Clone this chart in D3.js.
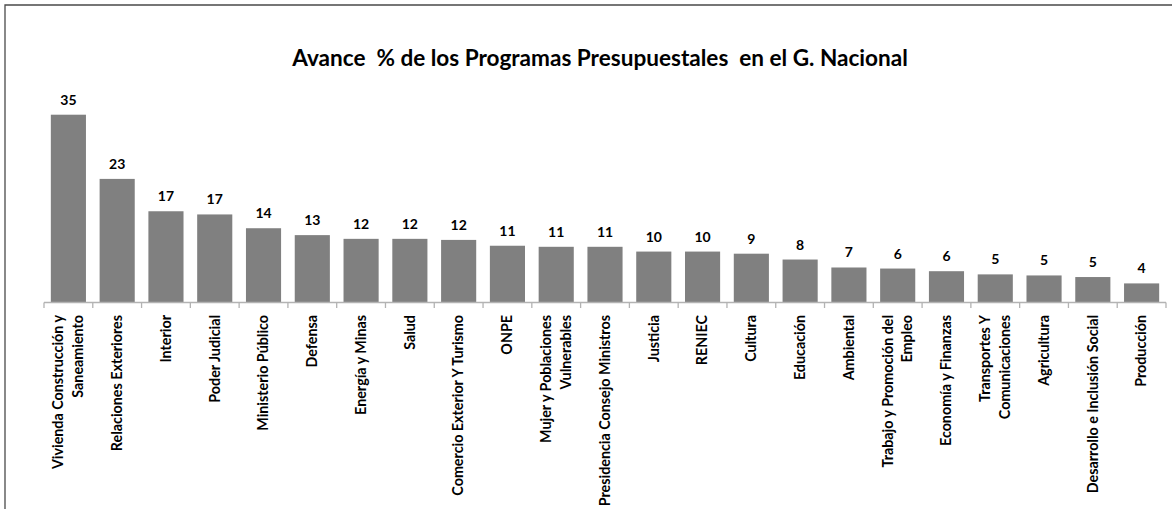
<!DOCTYPE html>
<html>
<head>
<meta charset="utf-8">
<script src="https://cdn.jsdelivr.net/npm/d3@7/dist/d3.min.js"></script>
<style>
  html, body { margin: 0; padding: 0; background: #ffffff; }
  svg { display: block; }
  text { font-family: Lato, "Open Sans", sans-serif; font-weight: bold; fill: #000; }
</style>
</head>
<body>
<script>
// Programme names (each entry is split into its printed lines)
const categories = [
  ["Vivienda Construcción y", "Saneamiento"],
  ["Relaciones Exteriores"],
  ["Interior"],
  ["Poder Judicial"],
  ["Ministerio Público"],
  ["Defensa"],
  ["Energía y Minas"],
  ["Salud"],
  ["Comercio Exterior Y Turismo"],
  ["ONPE"],
  ["Mujer y Poblaciones", "Vulnerables"],
  ["Presidencia Consejo Ministros"],
  ["Justicia"],
  ["RENIEC"],
  ["Cultura"],
  ["Educación"],
  ["Ambiental"],
  ["Trabajo y Promoción del", "Empleo"],
  ["Economía y Finanzas"],
  ["Transportes Y", "Comunicaciones"],
  ["Agricultura"],
  ["Desarrollo e Inclusión Social"],
  ["Producción"]
];

// Budget execution progress, percent
const avance = [35.4, 23.3, 17.2, 16.6, 14.0, 12.7, 12.0, 12.0, 11.8, 10.7, 10.5, 10.5,
                9.6, 9.6, 9.2, 8.1, 6.6, 6.4, 5.9, 5.3, 5.1, 4.8, 3.6];

const titulo = "Avance  % de los Programas Presupuestales  en el G. Nacional";

const W = 1172, H = 509;
const keys = categories.map(c => c.join(" "));
const data = keys.map((k, i) => ({ key: k, lines: categories[i], value: avance[i] }));

const svg = d3.select("body").append("svg").attr("width", W).attr("height", H);

// chart frame (runs off the right and bottom edges)
svg.append("path")
  .attr("d", `M5,${H + 2} L5,5 L${W + 2},5`)
  .attr("fill", "none")
  .attr("stroke", "#4a4a4a")
  .attr("stroke-width", 1.3);

const x = d3.scaleBand().domain(keys).range([44, 1166]).paddingInner(0.28).paddingOuter(0.14);
const y = d3.scaleLinear().domain([0, 40]).range([302.5, 90.3]);

// title, sized to its printed width
const t = svg.append("text")
  .attr("x", 600).attr("y", 66)
  .attr("text-anchor", "middle")
  .style("white-space", "pre")
  .style("font-size", "20px")
  .text(titulo);
const tl = t.node().getComputedTextLength();
t.style("font-size", (20 * 616 / tl) + "px");

// bars
svg.append("g").selectAll("rect").data(data).join("rect")
  .attr("x", d => x(d.key))
  .attr("width", x.bandwidth())
  .attr("y", d => y(d.value))
  .attr("height", d => y(0) - y(d.value))
  .attr("fill", "#808080");

// value labels
const fmt = d3.format(".0f");
svg.append("g").selectAll("text").data(data).join("text")
  .attr("x", d => x(d.key) + x.bandwidth() / 2)
  .attr("y", d => y(d.value) - 10)
  .attr("text-anchor", "middle")
  .style("font-size", "14px")
  .text(d => fmt(d.value));

// category axis: baseline plus ticks on band boundaries
const axis = svg.append("g");
const r0 = x.range()[0], step = x.step();
axis.append("line")
  .attr("x1", r0).attr("x2", x.range()[1])
  .attr("y1", y(0)).attr("y2", y(0))
  .attr("stroke", "#b3b3b3").attr("stroke-width", 1.3);
axis.selectAll("line.tick").data(d3.range(keys.length + 1)).join("line")
  .attr("class", "tick")
  .attr("x1", i => r0 + i * step).attr("x2", i => r0 + i * step)
  .attr("y1", y(0)).attr("y2", y(0) + 5.5)
  .attr("stroke", "#b3b3b3").attr("stroke-width", 1.3);

// rotated category names
const lineGap = 19.5;
const lab = axis.selectAll("g.lab").data(data).join("g")
  .attr("class", "lab")
  .attr("transform", d => `translate(${x(d.key) + x.bandwidth() / 2},315) rotate(-90)`);
lab.each(function (d) {
  const g = d3.select(this);
  const n = d.lines.length;
  d.lines.forEach((ln, i) => {
    g.append("text")
      .attr("x", 0)
      .attr("y", 4.8 + (i - (n - 1) / 2) * lineGap)
      .attr("text-anchor", "end")
      .style("font-size", "14.3px")
      .text(ln);
  });
});
</script>
</body>
</html>
